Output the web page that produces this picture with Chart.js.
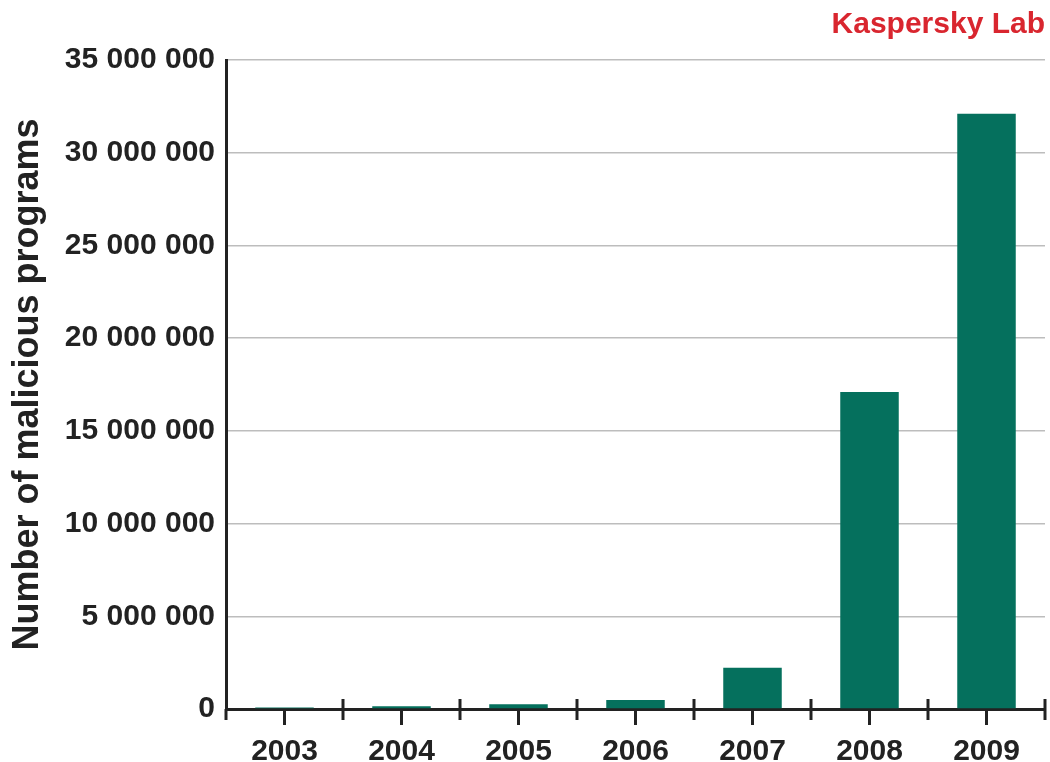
<!DOCTYPE html>
<html lang="en">
<head>
    <meta charset="UTF-8" />
    <title>Number of malicious programs</title>
    <script src="https://cdn.jsdelivr.net/npm/chart.js"></script>
    <style>
        body { margin: 0; background: #fff; }
    </style>
</head>
<body>

<canvas id="malwareChart" width="1050" height="762"></canvas>

<script>
// Kaspersky Lab collection, per year
const years = ['2003', '2004', '2005', '2006', '2007', '2008', '2009'];
const programs = [80000, 150000, 250000, 480000, 2230000, 17100000, 32100000];
const yTicks = [0, 5000000, 10000000, 15000000, 20000000, 25000000, 30000000, 35000000];

const FONT = "'Liberation Sans', Arial, sans-serif";
const AXIS = '#222';

// "35 000 000" style
function spaced(v) {
    return String(v).replace(/\B(?=(\d{3})+(?!\d))/g, ' ');
}

// ticks on the category axis: boundaries cross the line, centres hang below
const xTickMarks = {
    id: 'xTickMarks',
    afterDraw(chart) {
        const { ctx, chartArea, scales: { x } } = chart;
        const half = (x.getPixelForValue(1) - x.getPixelForValue(0)) / 2;
        const y0 = chartArea.bottom;
        ctx.save();
        ctx.strokeStyle = AXIS;
        ctx.lineWidth = 3;
        const line = (px, a, b) => {
            ctx.beginPath();
            ctx.moveTo(px, a);
            ctx.lineTo(px, b);
            ctx.stroke();
        };
        line(chartArea.left, y0, y0 + 11);
        years.forEach((_, i) => {
            const cx = x.getPixelForValue(i);
            line(cx + half, y0 - 10, y0 + 11);
            line(cx, y0, y0 + 16);
        });
        ctx.restore();
    }
};

const ctx = document.getElementById('malwareChart').getContext('2d');
new Chart(ctx, {
    type: 'bar',
    data: {
        labels: years,
        datasets: [{
            label: 'Number of malicious programs',
            data: programs,
            backgroundColor: '#05705d',
            barPercentage: 0.5,
            categoryPercentage: 1.0
        }]
    },
    options: {
        responsive: false,
        animation: false,
        layout: { padding: { left: 0, right: 5, top: 0, bottom: 0 } },
        plugins: {
            legend: { display: false },
            tooltip: { enabled: false },
            title: {
                display: true,
                text: 'Kaspersky Lab',
                align: 'end',
                color: '#d9262f',
                font: { family: FONT, size: 30, weight: 'bold' },
                padding: { top: 7, bottom: 17 }
            }
        },
        scales: {
            x: {
                offset: true,
                grid: { display: false },
                border: { display: true, color: AXIS, width: 3 },
                ticks: {
                    color: AXIS,
                    padding: 17,
                    font: { family: FONT, size: 30, weight: 'bold' }
                },
                afterFit(scale) { scale.height = 53; }
            },
            y: {
                min: 0,
                max: 35000000,
                afterBuildTicks(scale) {
                    scale.ticks = yTicks.map(v => ({ value: v }));
                },
                grid: { color: '#bdbdbd', lineWidth: 1.5, drawTicks: false },
                border: { display: true, color: AXIS, width: 3 },
                ticks: {
                    color: AXIS,
                    padding: 11,
                    font: { family: FONT, size: 30, weight: 'bold' },
                    callback: v => spaced(v)
                },
                title: {
                    display: true,
                    text: 'Number of malicious programs',
                    color: AXIS,
                    font: { family: FONT, size: 36, weight: 'bold' },
                    padding: { top: 6, bottom: 0 }
                },
                afterFit(scale) { scale.width = 226; }
            }
        }
    },
    plugins: [xTickMarks]
});
</script>

</body>
</html>
